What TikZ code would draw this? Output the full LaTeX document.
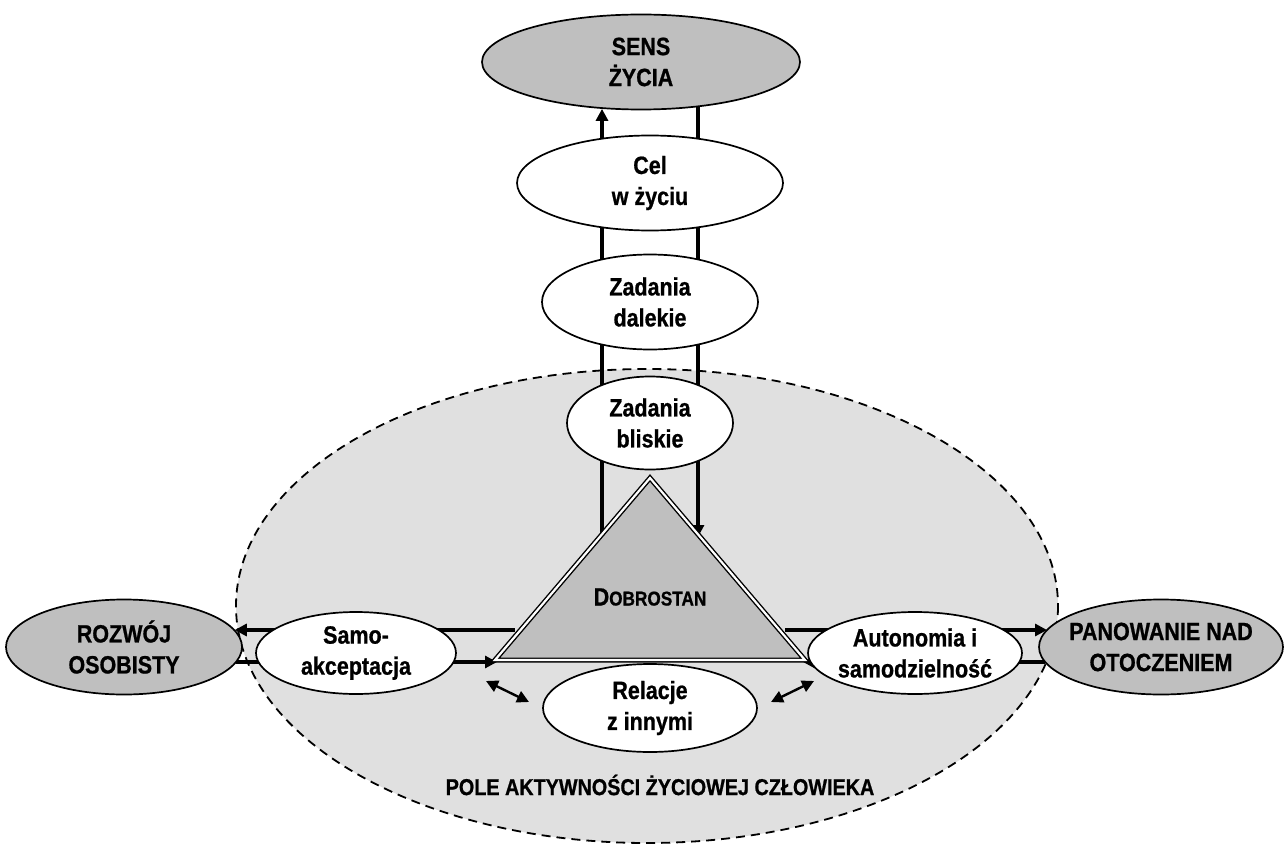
\documentclass[tikz,border=0pt]{standalone}
\usepackage{fontspec}
\setmainfont{Liberation Sans}[FakeStretch=0.86, BoldFeatures={FakeBold=0.8}]
\usepackage{tikz}
\usetikzlibrary{shapes.geometric,
                calc,
                arrows.meta, % for solid tips
                backgrounds,
                positioning}

\begin{document}
\begin{tikzpicture}[x=1pt, y=-1pt,
                    Outer/.style={draw, line width=1.7pt, ellipse, fill=black!25,
                                  inner xsep=-12pt, inner ysep=-4pt, align=center,
                                  font=\bfseries\fontsize{25}{31}\selectfont},
                    Inner/.style={Outer, fill=white},
                    arrow/.style={-{Triangle[length=12pt,width=12pt]}, line width=3.2pt},
                    twoway/.style={{Triangle[length=12pt,width=12pt]}-{Triangle[length=12pt,width=12pt]},
                                   line width=2.4pt},
                    field_label/.style={font=\bfseries\fontsize{23}{26}\selectfont}
                    ]
    \useasboundingbox (0,0) rectangle (1284,845);

    % pole aktywnosci
    \begin{scope}[on background layer]
        \fill[black!12] (647,606) ellipse [x radius=411, y radius=237];
        \draw[line width=1.8pt, dash pattern=on 9pt off 6pt] (647,606) ellipse [x radius=411, y radius=237];
    \end{scope}
    \node[field_label] (pole) at (660,785) {POLE AKTYWNOŚCI ŻYCIOWEJ CZŁOWIEKA};

    % upper chain
    \node[Outer, minimum width=318, minimum height=95] (sens) at (641,62) {SENS\\ŻYCIA};
    \node[Inner, minimum width=266, minimum height=95] (cel) at (650,183) {Cel\\w życiu};
    \node[Inner, minimum width=216, minimum height=95] (dalekie) at (650,302) {Zadania\\dalekie};
    \node[Inner, minimum width=166, minimum height=93] (bliskie) at (650,423) {Zadania\\bliskie};

    % sides
    \node[Outer, minimum width=236, minimum height=95] (rozwoj) at (124,647) {ROZWÓJ\\OSOBISTY};
    \node[Inner, minimum width=200, minimum height=82] (samo) at (356,653) {Samo-\\akceptacja};
    \node[Inner, minimum width=214, minimum height=88] (relacje) at (650,708) {Relacje\\z innymi};
    \node[Inner, minimum width=214, minimum height=82] (autonomia) at (915,653) {Autonomia i\\samodzielność};
    \node[Outer, minimum width=244, minimum height=95] (panowanie) at (1161,647) {PANOWANIE NAD\\OTOCZENIEM};

    % dobrostan
    \coordinate (apex) at (650,478);
    \coordinate (base_l) at (495,660);
    \coordinate (base_r) at (805,660);
    \filldraw[fill=black!25, line width=1.4pt, double=white, double distance=2.2pt]
        (apex) -- (base_l) -- (base_r) -- cycle;
    \node (dobro) at (650,597) {\bfseries{\fontsize{25}{30}\selectfont D}{\fontsize{20}{30}\selectfont OBROSTAN}};

    \coordinate (dob_l) at (602,535);
    \coordinate (dob_r) at (698,537);
    \coordinate (tri_lt) at (515,630);
    \coordinate (tri_lb) at (497,662);
    \coordinate (tri_rt) at (785,630);
    \coordinate (tri_rb) at (803,662);
    \coordinate (sa_a) at (486,681);
    \coordinate (re_a) at (529,702);
    \coordinate (re_b) at (771,702);
    \coordinate (au_a) at (814,681);

    \begin{scope}[on background layer]
        \draw[arrow] (dob_l) -- (dob_l |- sens.230);
        \draw[arrow] (sens.322 -| dob_r) -- (dob_r);
        \draw[arrow] (tri_lt) -- (tri_lt -| rozwoj.9);
        \draw[arrow] (tri_lb -| rozwoj.-8) -- (tri_lb);
        \draw[arrow] (tri_rt) -- (tri_rt -| panowanie.171);
        \draw[arrow] (tri_rb -| panowanie.188) -- (tri_rb);
    \end{scope}
    \draw[twoway] (sa_a) -- (re_a);
    \draw[twoway] (re_b) -- (au_a);
\end{tikzpicture}
\end{document}
